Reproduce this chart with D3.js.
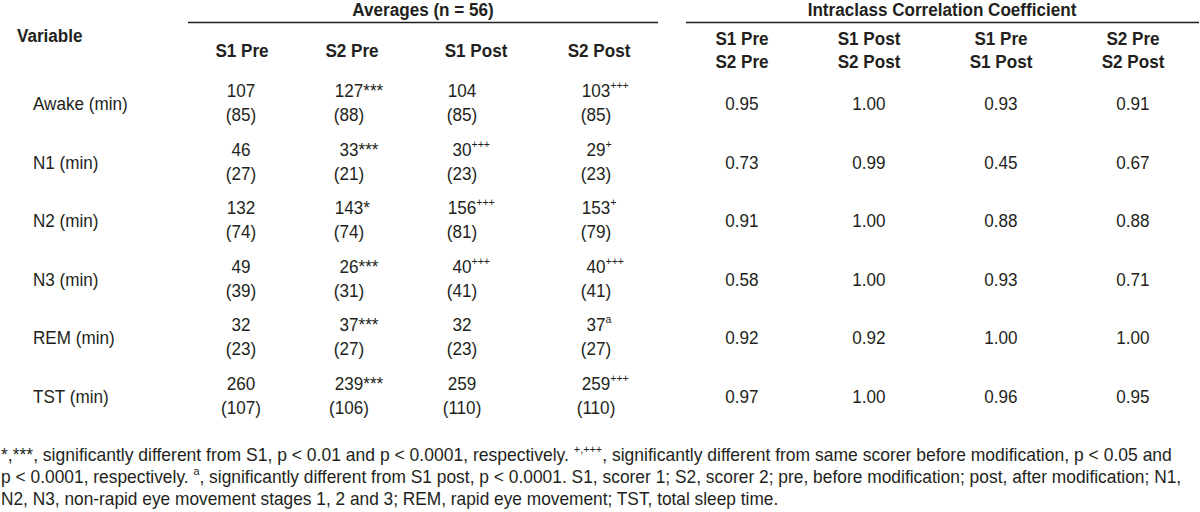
<!DOCTYPE html>
<html>
<head>
<meta charset="utf-8">
<script src="https://cdn.jsdelivr.net/npm/d3@7"></script>
<style>
  html, body { margin: 0; padding: 0; background: #ffffff; }
  svg { display: block; }
  text { font-family: "Liberation Sans", Arial, sans-serif; fill: #231f20; }
</style>
</head>
<body>
<svg id="chart" width="1200" height="512"></svg>
<script>
// ---------------- data ----------------
const variables = ["Awake (min)", "N1 (min)", "N2 (min)", "N3 (min)", "REM (min)", "TST (min)"];
const avgHeaders = ["S1 Pre", "S2 Pre", "S1 Post", "S2 Post"];
const iccHeaders = [["S1 Pre", "S2 Pre"], ["S1 Post", "S2 Post"], ["S1 Pre", "S1 Post"], ["S2 Pre", "S2 Post"]];

const meanS1Pre  = [107, 46, 132, 49, 32, 260];
const sdS1Pre    = [85, 27, 74, 39, 23, 107];
const markS1Pre  = ["", "", "", "", "", ""];

const meanS2Pre  = [127, 33, 143, 26, 37, 239];
const sdS2Pre    = [88, 21, 74, 31, 27, 106];
const markS2Pre  = ["***", "***", "*", "***", "***", "***"];

const meanS1Post = [104, 30, 156, 40, 32, 259];
const sdS1Post   = [85, 23, 81, 41, 23, 110];
const markS1Post = ["", "+++", "+++", "+++", "", ""];

const meanS2Post = [103, 29, 153, 40, 37, 259];
const sdS2Post   = [85, 23, 79, 41, 27, 110];
const markS2Post = ["+++", "+", "+", "+++", "a", "+++"];

const iccS1PreS2Pre   = [0.95, 0.73, 0.91, 0.58, 0.92, 0.97];
const iccS1PostS2Post = [1.00, 0.99, 1.00, 1.00, 0.92, 1.00];
const iccS1PreS1Post  = [0.93, 0.45, 0.88, 0.93, 1.00, 0.96];
const iccS2PreS2Post  = [0.91, 0.67, 0.88, 0.71, 1.00, 0.95];

const groupTitles = ["Averages (n = 56)", "Intraclass Correlation Coefficient"];
const rowHeader = "Variable";

const footnoteLines = [
  [{ t: "*,***, significantly different from S1, p < 0.01 and p < 0.0001, respectively. " }, { t: "+,+++", sup: true },
   { t: ", significantly different from same scorer before modification, p < 0.05 and" }],
  [{ t: "p < 0.0001, respectively. " }, { t: "a", sup: true },
   { t: ", significantly different from S1 post, p < 0.0001. S1, scorer 1; S2, scorer 2; pre, before modification; post, after modification; N1," }],
  [{ t: "N2, N3, non-rapid eye movement stages 1, 2 and 3; REM, rapid eye movement; TST, total sleep time." }]
];

// ---------------- build tables for drawing ----------------
const avgColumns = [
  { name: avgHeaders[0], mean: meanS1Pre,  sd: sdS1Pre,  mark: markS1Pre },
  { name: avgHeaders[1], mean: meanS2Pre,  sd: sdS2Pre,  mark: markS2Pre },
  { name: avgHeaders[2], mean: meanS1Post, sd: sdS1Post, mark: markS1Post },
  { name: avgHeaders[3], mean: meanS2Post, sd: sdS2Post, mark: markS2Post }
];
const iccColumns = [iccS1PreS2Pre, iccS1PostS2Post, iccS1PreS1Post, iccS2PreS2Post];

// ---------------- layout ----------------
const FS = 19, SX = 0.9;
const FS_FOOT = 18;
const svg = d3.select("#chart");

const rowY = d3.scalePoint().domain(variables).range([110, 403]);          // baseline of each row
const avgValX = d3.scaleOrdinal().domain(avgHeaders).range([241, 349, 462, 596]);
const avgHeadX = d3.scaleOrdinal().domain(avgHeaders).range([242, 352, 476, 599]);
const iccX = d3.scaleOrdinal().domain(d3.range(4)).range([742, 869, 1001, 1133]);

// text helper: parts = [{t, sup}]
function drawText(g, x, y, parts, o = {}) {
  const fs = o.fs || FS;
  const sx = o.sx == null ? SX : o.sx;
  const t = g.append("text")
    .attr("transform", `translate(${x},${y}) scale(${sx},1)`)
    .attr("font-size", fs)
    .attr("font-weight", o.bold ? "bold" : "normal")
    .attr("text-anchor", o.anchor || "start");
  let shift = 0;
  parts.forEach(p => {
    const ts = t.append("tspan").text(p.t);
    if (p.sup) {
      const rise = -fs * 0.42;
      ts.attr("font-size", fs * 0.62).attr("dy", rise - shift);
      shift = rise;
    } else if (shift !== 0) {
      ts.attr("dy", -shift);
      shift = 0;
    }
  });
  return t;
}

// ---------------- group titles and rules ----------------
const head = svg.append("g");
drawText(head, 423, 16, [{ t: groupTitles[0] }], { bold: true, anchor: "middle" });
drawText(head, 942, 16, [{ t: groupTitles[1] }], { bold: true, anchor: "middle" });
head.append("line").attr("x1", 188).attr("x2", 658).attr("y1", 22.5).attr("y2", 22.5)
  .attr("stroke", "#231f20").attr("stroke-width", 1.3);
head.append("line").attr("x1", 686).attr("x2", 1199).attr("y1", 22.5).attr("y2", 22.5)
  .attr("stroke", "#231f20").attr("stroke-width", 1.3);

drawText(head, 17, 42, [{ t: rowHeader }], { bold: true });
avgHeaders.forEach(h => drawText(head, avgHeadX(h), 57, [{ t: h }], { bold: true, anchor: "middle" }));
iccHeaders.forEach((pair, i) => {
  drawText(head, iccX(i), 45, [{ t: pair[0] }], { bold: true, anchor: "middle" });
  drawText(head, iccX(i), 68, [{ t: pair[1] }], { bold: true, anchor: "middle" });
});

// ---------------- body ----------------
const body = svg.append("g");
variables.forEach((v, r) => {
  const y = rowY(v);
  drawText(body, 33, y, [{ t: v }]);
  avgColumns.forEach(col => {
    const x = avgValX(col.name);
    const base = String(col.mean[r]);
    const mk = col.mark[r];
    const parts = [{ t: base }];
    if (mk) parts.push({ t: mk, sup: mk.indexOf("*") < 0 });
    const t = drawText(body, x, y - 13, parts);
    const len = t.node().getSubStringLength(0, base.length);
    t.attr("x", -len / 2);
    drawText(body, x, y + 11, [{ t: "(" + col.sd[r] + ")" }], { anchor: "middle" });
  });
  iccColumns.forEach((arr, i) => {
    drawText(body, iccX(i), y, [{ t: d3.format(".2f")(arr[r]) }], { anchor: "middle" });
  });
});

// ---------------- footnote ----------------
const foot = svg.append("g");
const footY = [461, 483, 505];
const footW = [1173, 1182, 779];
footnoteLines.forEach((parts, i) => {
  const t = drawText(foot, 1, footY[i], parts, { fs: FS_FOOT, sx: 1 });
  const len = t.node().getComputedTextLength();
  t.attr("transform", `translate(1,${footY[i]}) scale(${(footW[i] - 1) / len},1)`);
});
</script>
</body>
</html>
